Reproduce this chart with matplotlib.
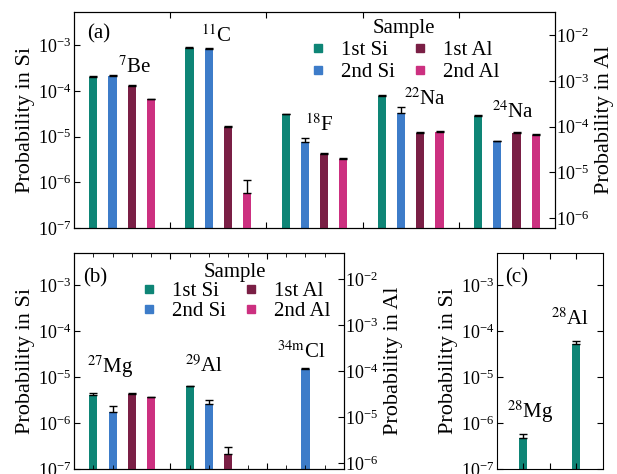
import numpy as np
import matplotlib
matplotlib.use("Agg")
import matplotlib.pyplot as plt
from matplotlib.lines import Line2D
from matplotlib.ticker import LogLocator, NullLocator, FixedLocator

plt.rcParams['font.family'] = ['Liberation Serif', 'DejaVu Serif']
plt.rcParams['mathtext.fontset'] = 'stix'

# colours of the four samples
c_si1 = '#0e8576'
c_si2 = '#3d7cc9'
c_al1 = '#7a1f45'
c_al2 = '#cc3080'

# ---- panel (a): left axis = Si, right axis = Al
iso_a = ['$^{7}$Be', '$^{11}$C', '$^{18}$F', '$^{22}$Na', '$^{24}$Na']
si1_a = [2.0e-4, 8.7e-4, 3.1e-5, 7.8e-5, 2.8e-5]
si1_a_err = [0.1e-4, 0.3e-4, 0.1e-5, 0.4e-5, 0.1e-5]
si2_a = [2.1e-4, 8.4e-4, 7.6e-6, 3.3e-5, 7.9e-6]
si2_a_err = [0.1e-4, 0.3e-4, 1.7e-6, 1.2e-5, 0.3e-6]
al1_a = [7.8e-4, 9.8e-5, 2.5e-5, 7.2e-5, 7.2e-5]
al1_a_err = [0.3e-4, 0.4e-5, 0.1e-5, 0.3e-5, 0.3e-5]
al2_a = [4.0e-4, 3.6e-6, 1.95e-5, 7.6e-5, 6.6e-5]
al2_a_err = [0.1e-4, 3.2e-6, 0.05e-5, 0.2e-5, 0.2e-5]

# ---- panel (b)
iso_b = ['$^{27}$Mg', '$^{29}$Al', '$^{34\\mathrm{m}}$Cl']
si1_b = [4.0e-6, 6.3e-6, np.nan]
si1_b_err = [0.6e-6, 0.2e-6, 0]
si2_b = [1.7e-6, 2.65e-6, 1.5e-5]
si2_b_err = [0.6e-6, 0.55e-6, 0.05e-5]
al1_b = [3.2e-5, 1.6e-6, np.nan]
al1_b_err = [0.1e-5, 0.6e-6, 0]
al2_b = [2.7e-5, np.nan, np.nan]
al2_b_err = [0.1e-5, 0, 0]

# ---- panel (c)
iso_c = ['$^{28}$Mg', '$^{28}$Al']
si1_c = [4.8e-7, 5.4e-5]
si1_c_err = [1.0e-7, 0.6e-5]

fig = plt.figure(figsize=(6.17, 4.74), dpi=100)
ax_a = fig.add_axes([0.120, 0.519, 0.7795, 0.456])
ax_b = fig.add_axes([0.120, 0.0105, 0.4375, 0.4555])
ax_c = fig.add_axes([0.8055, 0.0105, 0.1715, 0.4555])

w = 0.085
offs = [0.2, 0.4, 0.6, 0.8]
ekw = dict(ecolor='black', elinewidth=1, capsize=3, capthick=1)


def up(err):
    # only the upper half of the error bar is visible above the bar
    err = np.asarray(err, dtype=float)
    return [np.zeros_like(err), err]


def draw_panel(ax, n, si1, si1e, si2, si2e, al1, al1e, al2, al2e, ylim_r):
    x = np.arange(n)
    ax2 = ax.twinx()
    ax.bar(x + offs[0], si1, w, color=c_si1, yerr=up(si1e), error_kw=ekw)
    ax.bar(x + offs[1], si2, w, color=c_si2, yerr=up(si2e), error_kw=ekw)
    ax2.bar(x + offs[2], al1, w, color=c_al1, yerr=up(al1e), error_kw=ekw)
    ax2.bar(x + offs[3], al2, w, color=c_al2, yerr=up(al2e), error_kw=ekw)
    ax2.set_yscale('log')
    ax2.set_ylim(*ylim_r)
    ax2.yaxis.set_major_locator(LogLocator(base=10, numticks=20))
    ax2.yaxis.set_minor_locator(NullLocator())
    ax2.tick_params(axis='y', direction='in', length=4, labelsize=13, pad=1)
    ax2.set_ylabel('Probability in Al', fontsize=16, labelpad=4)
    return ax2


def style_left(ax, ylim):
    ax.set_yscale('log')
    ax.set_ylim(*ylim)
    ax.yaxis.set_major_locator(LogLocator(base=10, numticks=20))
    ax.yaxis.set_minor_locator(NullLocator())
    ax.tick_params(axis='y', direction='in', length=4, labelsize=13, pad=2)
    ax.tick_params(axis='x', which='both', direction='in', top=True,
                   labelbottom=False)
    ax.set_ylabel('Probability in Si', fontsize=16, labelpad=2)


handles = [Line2D([], [], ls='', marker='s', ms=6, color=c)
           for c in [c_si1, c_si2, c_al1, c_al2]]
names = ['1st Si', '2nd Si', '1st Al', '2nd Al']

# panel (a)
ax2_a = draw_panel(ax_a, 5, si1_a, si1_a_err, si2_a, si2_a_err,
                   al1_a, al1_a_err, al2_a, al2_a_err, (10**-6.22, 10**-1.49))
style_left(ax_a, (1e-7, 10**-2.27))
ax_a.set_xlim(0, 5)
ax_a.xaxis.set_major_locator(FixedLocator([1, 2, 3, 4]))
ax_a.tick_params(axis='x', length=4)
ax_a.text(0.027, 0.945, '(a)', transform=ax_a.transAxes, fontsize=15,
          va='top', ha='left')
lab_x_a = [0.63, 1.48, 2.55, 3.65, 4.56]
lab_y_a = [10**-3.72, 10**-3.04, 10**-4.99, 10**-4.42, 10**-4.70]
for t, lx, ly in zip(iso_a, lab_x_a, lab_y_a):
    ax_a.text(lx, ly, t, fontsize=15, ha='center', va='bottom')
ax2_a.legend(handles, names, ncol=2, title='Sample', frameon=False,
             fontsize=15, title_fontsize=15, loc='upper center',
             bbox_to_anchor=(0.685, 0.985), handlelength=1.0,
             handletextpad=0.6, columnspacing=0.7, labelspacing=0.12,
             borderaxespad=0, borderpad=0.2)

# panel (b)
ax2_b = draw_panel(ax_b, 3, si1_b, si1_b_err, si2_b, si2_b_err,
                   al1_b, al1_b_err, al2_b, al2_b_err, (10**-6.13, 10**-1.43))
style_left(ax_b, (1e-7, 10**-2.3))
ax_b.set_xlim(0, 2.8)
ax_b.xaxis.set_major_locator(FixedLocator([1, 2]))
ax_b.xaxis.set_minor_locator(FixedLocator(np.arange(0.2, 2.8, 0.2)))
ax_b.tick_params(axis='x', which='major', length=4)
ax_b.tick_params(axis='x', which='minor', length=3)
ax_b.text(0.035, 0.93, '(b)', transform=ax_b.transAxes, fontsize=15,
          va='top', ha='left')
lab_x_b = [0.37, 1.35, 2.36]
lab_y_b = [10**-5.06, 10**-5.0, 10**-4.69]
for t, lx, ly in zip(iso_b, lab_x_b, lab_y_b):
    ax_b.text(lx, ly, t, fontsize=15, ha='center', va='bottom')
ax2_b.legend(handles, names, ncol=2, title='Sample', frameon=False,
             fontsize=15, title_fontsize=15, loc='upper center',
             bbox_to_anchor=(0.595, 0.975), handlelength=1.0,
             handletextpad=0.6, columnspacing=0.7, labelspacing=0.0,
             borderaxespad=0, borderpad=0.2)

# panel (c)
xc = np.arange(len(iso_c)) + 0.5
ax_c.bar(xc, si1_c, 0.15, color=c_si1, yerr=up(si1_c_err), error_kw=ekw)
style_left(ax_c, (1e-7, 10**-2.3))
ax_c.set_xlim(0, 2)
ax_c.xaxis.set_major_locator(FixedLocator([0.5, 1.0, 1.5]))
ax_c.tick_params(axis='x', length=4)
ax_c.tick_params(axis='y', right=True)
ax_c.text(0.08, 0.93, '(c)', transform=ax_c.transAxes, fontsize=15,
          va='top', ha='left')
lab_x_c = [0.62, 1.38]
lab_y_c = [10**-6.05, 10**-3.97]
for t, lx, ly in zip(iso_c, lab_x_c, lab_y_c):
    ax_c.text(lx, ly, t, fontsize=15, ha='center', va='bottom')

fig.savefig('out.png', dpi=100)
